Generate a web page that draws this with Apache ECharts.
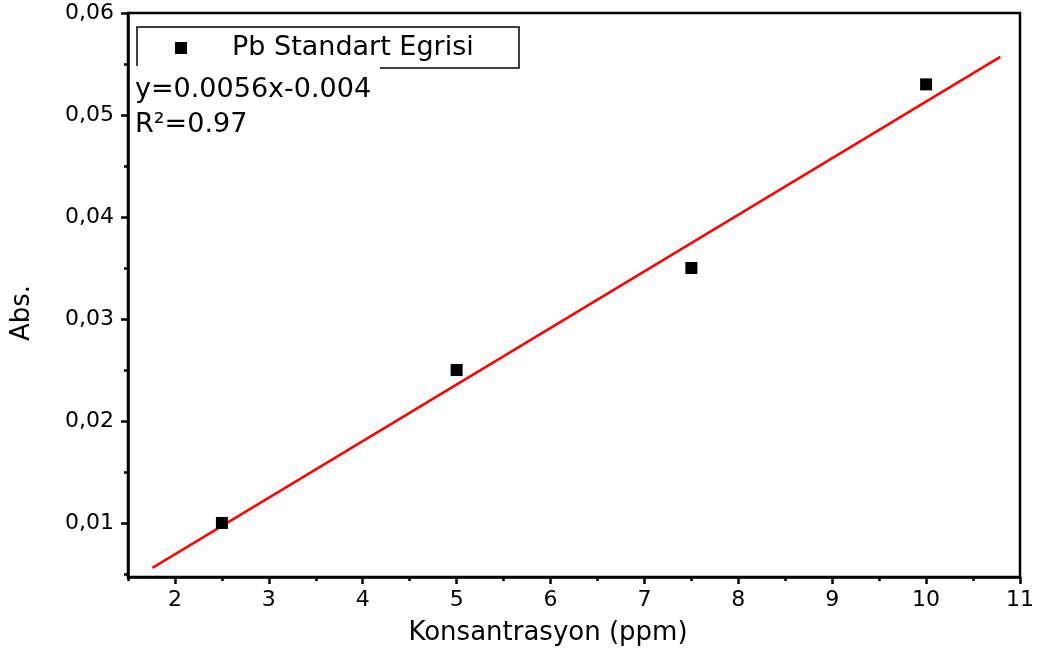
<!DOCTYPE html>
<html style="height: 100%">
<head>
    <meta charset="utf-8">
    <script src="https://cdn.jsdelivr.net/npm/echarts@6.0.0/dist/echarts.min.js"></script>
</head>
<body style="height: 100%; margin: 0; background: #fff">
    <div id="container" style="width: 1044px; height: 659px"></div>
    <script type="text/javascript">
        var myChart = echarts.init(document.getElementById('container'));

        // measured standards
        var concentration = [2.5, 5, 7.5, 10];
        var absorbance = [0.010, 0.025, 0.035, 0.053];
        // fitted line, ends as drawn
        var fitX = [1.76, 10.79];
        var fitY = [0.0056, 0.0557];

        var xMajor = [2, 3, 4, 5, 6, 7, 8, 9, 10, 11];
        var xMinor = [1.5, 2.5, 3.5, 4.5, 5.5, 6.5, 7.5, 8.5, 9.5, 10.5];
        var yMajor = [0.01, 0.02, 0.03, 0.04, 0.05, 0.06];
        var yMinor = [0.005, 0.015, 0.025, 0.035, 0.045, 0.055];

        var font = 'DejaVu Sans';
        var black = '#000';

        var points = concentration.map(function (x, i) { return [x, absorbance[i]]; });
        var fitLine = fitX.map(function (x, i) { return [x, fitY[i]]; });

        var gridPos = { left: 128, right: 24, top: 13, bottom: 82 };

        option = {
            backgroundColor: '#fff',
            animation: false,
            grid: [
                Object.assign({ show: true, borderColor: black, borderWidth: 2.5, backgroundColor: 'transparent' }, gridPos),
                Object.assign({}, gridPos)
            ],
            legend: {
                data: ['Pb Standart Egrisi'],
                left: 137, top: 27,
                padding: [6, 30, 5, 38],
                icon: 'rect',
                itemWidth: 12, itemHeight: 12,
                selectedMode: false,
                textStyle: { fontFamily: font, fontSize: 27, color: black, lineHeight: 30, padding: [0, 0, 0, 40] }
            },
            xAxis: [
                {
                    type: 'value', gridIndex: 0,
                    min: 1.5, max: 11,
                    name: 'Konsantrasyon (ppm)',
                    nameLocation: 'middle', nameGap: 43,
                    nameTextStyle: { fontFamily: font, fontSize: 26, color: black, padding: [0, 52, 0, 0] },
                    axisLine: { lineStyle: { color: black, width: 2.5 } },
                    axisTick: { customValues: xMajor, length: 7, lineStyle: { color: black, width: 2.5 } },
                    axisLabel: { customValues: xMajor, fontFamily: font, fontSize: 22, color: black, margin: 12 },
                    splitLine: { show: false }
                },
                {
                    type: 'value', gridIndex: 1,
                    min: 1.5, max: 11,
                    axisLine: { show: false },
                    axisTick: { customValues: xMinor, length: 4, lineStyle: { color: black, width: 2.5 } },
                    axisLabel: { show: false },
                    splitLine: { show: false }
                }
            ],
            yAxis: [
                {
                    type: 'value', gridIndex: 0,
                    min: 0.0047, max: 0.06,
                    name: 'Abs.',
                    nameLocation: 'middle', nameGap: 93,
                    nameTextStyle: { fontFamily: font, fontSize: 26, color: black, padding: [0, 36, 0, 0] },
                    axisLine: { lineStyle: { color: black, width: 2.5 } },
                    axisTick: { customValues: yMajor, length: 7, lineStyle: { color: black, width: 2.5 } },
                    axisLabel: {
                        customValues: yMajor, fontFamily: font, fontSize: 22, color: black, margin: 14,
                        formatter: function (v) { return v.toFixed(2).replace('.', ','); }
                    },
                    splitLine: { show: false }
                },
                {
                    type: 'value', gridIndex: 1,
                    min: 0.0047, max: 0.06,
                    axisLine: { show: false },
                    axisTick: { customValues: yMinor, length: 4, lineStyle: { color: black, width: 2.5 } },
                    axisLabel: { show: false },
                    splitLine: { show: false }
                }
            ],
            series: [
                {
                    name: 'Fit', type: 'line', xAxisIndex: 0, yAxisIndex: 0,
                    data: fitLine, symbol: 'none',
                    lineStyle: { color: '#ff0000', width: 2.5 },
                    z: 2
                },
                {
                    name: 'Pb Standart Egrisi', type: 'scatter', xAxisIndex: 0, yAxisIndex: 0,
                    data: points, symbol: 'rect', symbolSize: 12,
                    itemStyle: { color: black, opacity: 1 },
                    z: 3
                }
            ],
            graphic: [
                {
                    type: 'polyline', silent: true,
                    shape: { points: [[380, 68], [519, 68], [519, 27], [137, 27], [137, 66]] },
                    style: { stroke: black, lineWidth: 1.5, fill: null }
                },
                {
                    type: 'text', left: 135, top: 76, silent: true,
                    style: { text: 'y=0.0056x-0.004', fontFamily: font, fontSize: 27, fill: black }
                },
                {
                    type: 'text', left: 135, top: 111, silent: true,
                    style: { text: 'R\u00b2=0.97', fontFamily: font, fontSize: 27, fill: black }
                }
            ]
        };

        myChart.setOption(option);
        window.addEventListener('resize', function () { myChart.resize(); });
    </script>
</body>
</html>
